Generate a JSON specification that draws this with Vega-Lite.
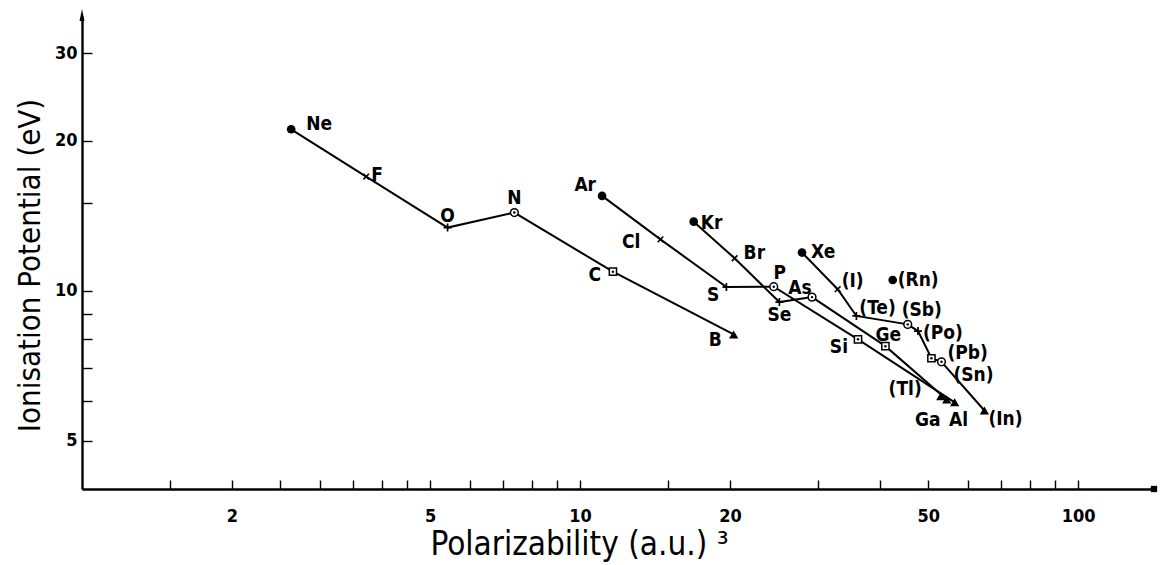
{
  "$schema": "https://vega.github.io/schema/vega-lite/v6.json",
  "width": 1072,
  "height": 473,
  "autosize": "none",
  "padding": {"left": 82, "top": 16, "right": 6, "bottom": 76},
  "background": "white",
  "config": {
    "view": {"stroke": null},
    "font": "DejaVu Sans",
    "text": {"font": "DejaVu Sans Condensed, DejaVu Sans", "fontSize": 19, "fontWeight": "bold", "color": "black"},
    "point": {"color": "black", "opacity": 1}
  },
  "datasets": {
    "el": [
      {"el": "Ne", "label": "Ne", "pol": 2.63, "ip": 21.09, "group": "18", "period": "p2", "seq": 1},
      {"el": "F", "label": "F", "pol": 3.72, "ip": 16.95, "group": "17", "period": "p2", "seq": 2},
      {"el": "O", "label": "O", "pol": 5.42, "ip": 13.39, "group": "16", "period": "p2", "seq": 3},
      {"el": "N", "label": "N", "pol": 7.38, "ip": 14.35, "group": "15", "period": "p2", "seq": 4},
      {"el": "C", "label": "C", "pol": 11.64, "ip": 10.92, "group": "14", "period": "p2", "seq": 5},
      {"el": "B", "label": "B", "pol": 20.34, "ip": 8.17, "group": "13", "period": "p2", "seq": 6},
      {"el": "Ar", "label": "Ar", "pol": 11.07, "ip": 15.5, "group": "18", "period": "p3", "seq": 1},
      {"el": "Cl", "label": "Cl", "pol": 14.5, "ip": 12.68, "group": "17", "period": "p3", "seq": 2},
      {"el": "S", "label": "S", "pol": 19.67, "ip": 10.17, "group": "16", "period": "p3", "seq": 3},
      {"el": "P", "label": "P", "pol": 24.48, "ip": 10.19, "group": "15", "period": "p3", "seq": 4},
      {"el": "Si", "label": "Si", "pol": 36.14, "ip": 7.99, "group": "14", "period": "p3", "seq": 5},
      {"el": "Al", "label": "Al", "pol": 56.5, "ip": 5.97, "group": "13", "period": "p3", "seq": 6},
      {"el": "Kr", "label": "Kr", "pol": 16.91, "ip": 13.76, "group": "18", "period": "p4", "seq": 1},
      {"el": "Br", "label": "Br", "pol": 20.43, "ip": 11.62, "group": "17", "period": "p4", "seq": 2},
      {"el": "Se", "label": "Se", "pol": 25.13, "ip": 9.49, "group": "16", "period": "p4", "seq": 3},
      {"el": "As", "label": "As", "pol": 29.22, "ip": 9.71, "group": "15", "period": "p4", "seq": 4},
      {"el": "Ge", "label": "Ge", "pol": 41.02, "ip": 7.74, "group": "14", "period": "p4", "seq": 5},
      {"el": "Ga", "label": "Ga", "pol": 54.47, "ip": 6.05, "group": "13", "period": "p4", "seq": 6},
      {"el": "Xe", "label": "Xe", "pol": 27.9, "ip": 11.93, "group": "18", "period": "p5", "seq": 1},
      {"el": "I", "label": "(I)", "pol": 32.9, "ip": 10.07, "group": "17", "period": "p5", "seq": 2},
      {"el": "Te", "label": "(Te)", "pol": 35.87, "ip": 8.9, "group": "16", "period": "p5", "seq": 3},
      {"el": "Sb", "label": "(Sb)", "pol": 45.48, "ip": 8.56, "group": "15", "period": "p5", "seq": 4},
      {"el": "Po", "label": "(Po)", "pol": 47.7, "ip": 8.3, "group": "16", "period": "p5", "seq": 5},
      {"el": "Pb", "label": "(Pb)", "pol": 50.75, "ip": 7.32, "group": "14", "period": "p5", "seq": 6},
      {"el": "Sn", "label": "(Sn)", "pol": 53.16, "ip": 7.2, "group": "15", "period": "p5", "seq": 7},
      {"el": "In", "label": "(In)", "pol": 64.83, "ip": 5.75, "group": "13", "period": "p5", "seq": 8},
      {"el": "Rn", "label": "(Rn)", "pol": 42.43, "ip": 10.51, "group": "18", "period": null, "seq": null},
      {"el": "Tl", "label": "(Tl)", "pol": 52.98, "ip": 6.14, "group": "13", "period": null, "seq": null}
    ],
    "ends": [
      {"end": "top", "pol": 1, "ip": 35.6},
      {"end": "right", "pol": 142, "ip": 4}
    ]
  },
  "data": {"name": "el"},
  "encoding": {
    "x": {
      "field": "pol", "type": "quantitative",
      "scale": {"type": "log", "domain": [1, 142], "nice": false, "zero": false},
      "axis": {
        "values": [1.5, 2, 2.5, 3, 3.5, 4, 4.5, 5, 6, 7, 8, 9, 10, 15, 20, 30, 40, 50, 60, 70, 80, 90, 100],
        "labelExpr": "(datum.value==2||datum.value==5||datum.value==10||datum.value==20||datum.value==50||datum.value==100) ? datum.label : ''",
        "format": "d",
        "grid": false,
        "tickSize": -9, "tickColor": "black", "tickWidth": 1.4,
        "domainColor": "black", "domainWidth": 2.4,
        "labelPadding": 36, "labelBaseline": "middle",
        "labelFont": "DejaVu Sans Condensed, DejaVu Sans", "labelFontSize": 18, "labelFontWeight": "bold", "labelColor": "black",
        "labelFlush": false, "labelOverlap": false, "labelBound": false,
        "title": "Polarizability (a.u.) ³",
        "titleFont": "DejaVu Sans Condensed, DejaVu Sans", "titleFontSize": 33, "titleFontWeight": "normal", "titleColor": "black",
        "titleX": 497, "titleY": 55, "titleAlign": "center", "titleBaseline": "middle"
      }
    },
    "y": {
      "field": "ip", "type": "quantitative",
      "scale": {"type": "log", "domain": [4, 35.6], "nice": false, "zero": false},
      "axis": {
        "values": [5, 6, 7, 8, 9, 10, 15, 20, 30],
        "labelExpr": "(datum.value==5||datum.value==10||datum.value==20||datum.value==30) ? datum.label : ''",
        "format": "d",
        "grid": false,
        "tickSize": -10, "tickColor": "black", "tickWidth": 1.4,
        "domainColor": "black", "domainWidth": 2.4,
        "labelPadding": 15,
        "labelFont": "DejaVu Sans Condensed, DejaVu Sans", "labelFontSize": 18, "labelFontWeight": "bold", "labelColor": "black",
        "labelFlush": false, "labelOverlap": false, "labelBound": false,
        "title": "Ionisation Potential (eV)",
        "titleFont": "DejaVu Sans Condensed, DejaVu Sans", "titleFontSize": 31, "titleFontWeight": "normal", "titleColor": "black",
        "titleX": -52, "titleY": 249, "titleAngle": -90, "titleAlign": "center", "titleBaseline": "middle"
      }
    }
  },
  "layer": [
    {
      "transform": [{"filter": "datum.period != null"}],
      "mark": {"type": "line", "color": "black", "strokeWidth": 2},
      "encoding": {"detail": {"field": "period"}, "order": {"field": "seq", "type": "quantitative"}}
    },
    {
      "transform": [{"filter": "datum.group == '18'"}],
      "mark": {"type": "point", "shape": "circle", "filled": true, "size": 75, "color": "black"}
    },
    {
      "transform": [{"filter": "datum.group == '17'"}],
      "mark": {"type": "point", "shape": "M-1,-1L1,1M1,-1L-1,1", "filled": false, "size": 32, "strokeWidth": 1.6, "color": "black"}
    },
    {
      "transform": [{"filter": "datum.group == '16'"}],
      "mark": {"type": "point", "shape": "M-1,0L1,0M0,-1L0,1", "filled": false, "size": 64, "strokeWidth": 1.7, "color": "black"}
    },
    {
      "transform": [{"filter": "datum.group == '15'"}],
      "mark": {"type": "point", "shape": "circle", "filled": false, "size": 60, "strokeWidth": 1.5, "color": "black", "fill": "white", "fillOpacity": 1}
    },
    {
      "transform": [{"filter": "datum.group == '14'"}],
      "mark": {"type": "point", "shape": "square", "filled": false, "size": 52, "strokeWidth": 1.5, "color": "black", "fill": "white", "fillOpacity": 1}
    },
    {
      "transform": [{"filter": "datum.group == '15' || datum.group == '14'"}],
      "mark": {"type": "point", "shape": "circle", "filled": true, "size": 6, "color": "black"}
    },
    {
      "transform": [{"filter": "datum.group == '13'"}],
      "mark": {"type": "point", "shape": "triangle-up", "filled": true, "size": 85, "color": "black"}
    },
    {
      "data": {"name": "ends"},
      "transform": [{"filter": "datum.end == 'top'"}],
      "mark": {"type": "point", "shape": "M0,-1L0.35,0.7L-0.35,0.7Z", "filled": true, "size": 200, "color": "black"}
    },
    {
      "data": {"name": "ends"},
      "transform": [{"filter": "datum.end == 'right'"}],
      "mark": {"type": "point", "shape": "square", "filled": true, "size": 40, "color": "black"}
    },
    {
      "encoding": {"text": {"field": "label"}},
      "layer": [
        {"transform": [{"filter": "datum.el == 'Ne'"}], "mark": {"type": "text", "align": "left", "baseline": "middle", "dx": 15, "dy": -5}},
        {"transform": [{"filter": "datum.el == 'F'"}], "mark": {"type": "text", "align": "left", "baseline": "middle", "dx": 5, "dy": -2}},
        {"transform": [{"filter": "datum.el == 'O'"}], "mark": {"type": "text", "align": "center", "baseline": "middle", "dx": 0, "dy": -12}},
        {"transform": [{"filter": "datum.el == 'N'"}], "mark": {"type": "text", "align": "center", "baseline": "middle", "dx": 0, "dy": -15}},
        {"transform": [{"filter": "datum.el == 'C'"}], "mark": {"type": "text", "align": "right", "baseline": "middle", "dx": -12, "dy": 3}},
        {"transform": [{"filter": "datum.el == 'B'"}], "mark": {"type": "text", "align": "right", "baseline": "middle", "dx": -12, "dy": 6}},
        {"transform": [{"filter": "datum.el == 'Ar'"}], "mark": {"type": "text", "align": "right", "baseline": "middle", "dx": -6, "dy": -11}},
        {"transform": [{"filter": "datum.el == 'Cl'"}], "mark": {"type": "text", "align": "right", "baseline": "middle", "dx": -20, "dy": 3}},
        {"transform": [{"filter": "datum.el == 'S'"}], "mark": {"type": "text", "align": "right", "baseline": "middle", "dx": -7, "dy": 8}},
        {"transform": [{"filter": "datum.el == 'P'"}], "mark": {"type": "text", "align": "center", "baseline": "middle", "dx": 6, "dy": -14}},
        {"transform": [{"filter": "datum.el == 'Si'"}], "mark": {"type": "text", "align": "right", "baseline": "middle", "dx": -10, "dy": 8}},
        {"transform": [{"filter": "datum.el == 'Al'"}], "mark": {"type": "text", "align": "center", "baseline": "middle", "dx": 4, "dy": 18}},
        {"transform": [{"filter": "datum.el == 'Kr'"}], "mark": {"type": "text", "align": "left", "baseline": "middle", "dx": 7, "dy": 1}},
        {"transform": [{"filter": "datum.el == 'Br'"}], "mark": {"type": "text", "align": "left", "baseline": "middle", "dx": 9, "dy": -5}},
        {"transform": [{"filter": "datum.el == 'Se'"}], "mark": {"type": "text", "align": "center", "baseline": "middle", "dx": 0, "dy": 13}},
        {"transform": [{"filter": "datum.el == 'As'"}], "mark": {"type": "text", "align": "center", "baseline": "middle", "dx": -12, "dy": -9}},
        {"transform": [{"filter": "datum.el == 'Ge'"}], "mark": {"type": "text", "align": "center", "baseline": "middle", "dx": 3, "dy": -11}},
        {"transform": [{"filter": "datum.el == 'Ga'"}], "mark": {"type": "text", "align": "center", "baseline": "middle", "dx": -19, "dy": 21}},
        {"transform": [{"filter": "datum.el == 'Xe'"}], "mark": {"type": "text", "align": "left", "baseline": "middle", "dx": 9, "dy": -1}},
        {"transform": [{"filter": "datum.el == 'I'"}], "mark": {"type": "text", "align": "left", "baseline": "middle", "dx": 4, "dy": -8}},
        {"transform": [{"filter": "datum.el == 'Te'"}], "mark": {"type": "text", "align": "left", "baseline": "middle", "dx": 3, "dy": -8}},
        {"transform": [{"filter": "datum.el == 'Sb'"}], "mark": {"type": "text", "align": "center", "baseline": "middle", "dx": 14, "dy": -14}},
        {"transform": [{"filter": "datum.el == 'Po'"}], "mark": {"type": "text", "align": "left", "baseline": "middle", "dx": 5, "dy": 2}},
        {"transform": [{"filter": "datum.el == 'Pb'"}], "mark": {"type": "text", "align": "left", "baseline": "middle", "dx": 16, "dy": -5}},
        {"transform": [{"filter": "datum.el == 'Sn'"}], "mark": {"type": "text", "align": "left", "baseline": "middle", "dx": 12, "dy": 13}},
        {"transform": [{"filter": "datum.el == 'In'"}], "mark": {"type": "text", "align": "left", "baseline": "middle", "dx": 4, "dy": 9}},
        {"transform": [{"filter": "datum.el == 'Rn'"}], "mark": {"type": "text", "align": "left", "baseline": "middle", "dx": 5, "dy": 0}},
        {"transform": [{"filter": "datum.el == 'Tl'"}], "mark": {"type": "text", "align": "right", "baseline": "middle", "dx": -19, "dy": -7}}
      ]
    }
  ]
}
